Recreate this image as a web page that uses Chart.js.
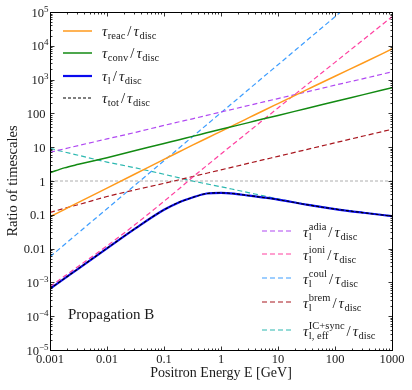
<!DOCTYPE html>
<html>
<head>
<meta charset="utf-8">
<script src="https://cdn.jsdelivr.net/npm/chart.js@4.4.1/dist/chart.umd.min.js"></script>
<style>
  html,body{margin:0;padding:0;background:#fff}
</style>
</head>
<body>
<canvas id="c" width="412" height="390"></canvas>
<script>
// energies (GeV) the curves were read at
const energy = [0.001, 0.00178, 0.00316, 0.01, 0.0316, 0.1, 0.178, 0.316, 0.562, 1, 1.78, 3.16, 5.62, 10, 31.6, 100, 316, 1000]

// timescale ratios
const reacRatio = [0.088, 0.143, 0.232, 0.617, 1.64, 4.37, 7.08, 11.5, 18.4, 29.5, 47.3, 75.9, 122, 195, 496, 1260, 3160, 8040]
const convRatio = [1.76, 2.45, 3.12, 4.90, 7.94, 12.9, 16.4, 20.9, 26.6, 33.9, 42.7, 54.3, 69.2, 87.1, 140, 224, 359, 575]
const lossRatio = [6.46e-4, 1.29e-3, 2.57e-3, 0.0102, 0.0398, 0.141, 0.229, 0.324, 0.427, 0.447, 0.417, 0.367, 0.324, 0.282, 0.200, 0.148, 0.115, 0.0912]
const totRatio  = [6.46e-4, 1.29e-3, 2.57e-3, 0.0102, 0.0398, 0.141, 0.229, 0.324, 0.427, 0.447, 0.417, 0.367, 0.324, 0.282, 0.200, 0.148, 0.115, 0.0912]
const adiaRatio = [7.08, 8.91, 11.2, 17.6, 27.5, 44.2, 55.6, 69.2, 87.1, 110, 138, 174, 219, 275, 432, 684, 1072, 1698]
const ioniRatio = [7.41e-4, 1.51e-3, 3.02e-3, 0.0120, 0.0525, 0.251, 0.562, 1.29, 2.85, 6.31, 13.8, 30.2, 66.1, 145, 684, 3240, 15300, 72400]
const coulRatio = [5.75e-3, 0.0130, 0.0295, 0.151, 0.776, 3.98, 9.02, 20.4, 46.2, 105, 237, 537, 1220, 2750, 14100, 72400, 372000, 1910000]
const bremRatio = [0.117, 0.155, 0.200, 0.347, 0.550, 0.851, 1.07, 1.35, 1.70, 2.14, 2.69, 3.39, 4.27, 5.37, 8.51, 13.5, 21.4, 33.9]
const icRatio   = [9.27, 7.24, 5.75, 3.63, 2.45, 1.58, 1.26, 1.00, 0.822, 0.676, 0.550, 0.447, 0.363, 0.295, 0.204, 0.151, 0.117, 0.0923]

// reference line at ratio = 1
const unityX = [0.001, 1000]
const unityY = [1, 1]

// ticks
const xTicks = [0.001, 0.01, 0.1, 1, 10, 100, 1000]
const xTickLabels = ['0.001', '0.01', '0.1', '1', '10', '100', '1000']
const yTicks = [1e5, 1e4, 1e3, 100, 10, 1, 0.1, 0.01, 1e-3, 1e-4, 1e-5]
const yTickLabels = ['10^5', '10^4', '10^3', '100', '10', '1', '0.1', '0.01', '10^−3', '10^−4', '10^−5']

const FONT = "'Liberation Serif', 'DejaVu Serif', serif"
const INK = '#1a1a1a'

function pts(ys, xs=energy){ return xs.map((e,i)=>({x:e, y:ys[i]})) }

function series(label, ys, color, width, dash, group, order){
  return {label, data:pts(ys), borderColor:color, backgroundColor:color, borderWidth:width,
    borderDash:dash, group, order, pointRadius:0, fill:false, cubicInterpolationMode:'monotone'}
}

const datasets = [
  series('τ_{reac}/τ_{disc}', reacRatio, '#ff9a1c', 1.5, [], 'top', 3),
  series('τ_{conv}/τ_{disc}', convRatio, '#128a12', 1.5, [], 'top', 2),
  series('τ_{l}/τ_{disc}', lossRatio, '#0a0aee', 2.2, [], 'top', 1),
  series('τ_{tot}/τ_{disc}', totRatio, '#000000', 1.1, [3,2], 'top', 0),
  series('τ_{l}^{adia}/τ_{disc}', adiaRatio, '#b048f2', 1.2, [5,3], 'bottom', 4),
  series('τ_{l}^{ioni}/τ_{disc}', ioniRatio, '#ff40a0', 1.2, [5,3], 'bottom', 5),
  series('τ_{l}^{coul}/τ_{disc}', coulRatio, '#3d9dff', 1.2, [5,3], 'bottom', 6),
  series('τ_{l}^{brem}/τ_{disc}', bremRatio, '#a8161e', 1.2, [5,3], 'bottom', 7),
  series('τ_{l, eff}^{IC+sync}/τ_{disc}', icRatio, '#2cb8b0', 1.2, [5,3], 'bottom', 8),
  {label:'unity', data:pts(unityY, unityX), borderColor:'#9a9a9a', borderWidth:0.8, borderDash:[3,2], pointRadius:0, order:9}
]

// tiny math-ish text: τ_{sub}^{sup}
function parseMath(s){
  const atoms = []
  let i = 0
  while(i < s.length){
    const c = s[i]
    if((c=='_' || c=='^') && s[i+1]=='{'){
      const j = s.indexOf('}', i)
      atoms[atoms.length-1][c=='_' ? 'sub' : 'sup'] = s.slice(i+2, j)
      i = j+1
    } else { atoms.push({t:c}); i++ }
  }
  return atoms
}

function drawMath(ctx, str, x, y, size){
  const small = size*0.7
  for(const a of parseMath(str)){
    const greek = /[α-ω]/.test(a.t)
    ctx.font = `${greek ? 'italic ' : ''}${size}px ${FONT}`
    let w = ctx.measureText(a.t).width
    if(a.t == '/'){ x += 2; ctx.fillText(a.t, x, y); w += 2 }
    else ctx.fillText(a.t, x, y)
    ctx.font = `${small}px ${FONT}`
    let extra = 0
    if(a.sub){ ctx.fillText(a.sub, x+w+0.5, y+size*0.26); extra = ctx.measureText(a.sub).width+0.5 }
    if(a.sup){ ctx.fillText(a.sup, x+w+0.5, y-size*0.42); extra = Math.max(extra, ctx.measureText(a.sup).width+0.5) }
    x += w + extra
  }
}

const decor = {
  id:'decor',
  afterDatasetsDraw(chart){
    const {ctx, chartArea:a, scales:{x, y}} = chart
    ctx.save()
    ctx.strokeStyle = '#000'
    ctx.fillStyle = INK
    ctx.lineWidth = 1
    ctx.setLineDash([])
    const L = a.left+0.5, R = a.right+0.5, T = a.top+0.5, B = a.bottom+0.5
    ctx.strokeRect(L, T, R-L, B-T)

    // inward ticks on all sides
    ctx.lineWidth = 0.8
    ctx.beginPath()
    for(let d=-3; d<=3; d++){
      for(let k=1; k<=9; k++){
        const v = k*Math.pow(10, d)
        if(v > 1000.01) break
        const px = Math.round(x.getPixelForValue(v))+0.5
        const len = k==1 ? 4 : 2
        ctx.moveTo(px, B); ctx.lineTo(px, B-len)
        ctx.moveTo(px, T); ctx.lineTo(px, T+len)
      }
    }
    for(let d=-5; d<=5; d++){
      for(let k=1; k<=9; k++){
        const v = k*Math.pow(10, d)
        if(v > 1.0001e5) break
        const py = Math.round(y.getPixelForValue(v))+0.5
        const len = k==1 ? 4 : 2
        ctx.moveTo(L, py); ctx.lineTo(L+len, py)
        ctx.moveTo(R, py); ctx.lineTo(R-len, py)
      }
    }
    ctx.stroke()

    // tick labels
    ctx.textBaseline = 'alphabetic'
    ctx.font = `12.5px ${FONT}`
    ctx.textAlign = 'center'
    xTicks.forEach((v,i)=>{
      ctx.fillText(xTickLabels[i], x.getPixelForValue(v), a.bottom+13)
    })
    yTicks.forEach((v,i)=>{
      const py = y.getPixelForValue(v)
      const lab = yTickLabels[i]
      if(lab.includes('^')){
        const [base, ex] = lab.split('^')
        ctx.font = `9px ${FONT}`
        const we = ctx.measureText(ex).width
        ctx.textAlign = 'left'
        ctx.fillText(ex, a.left-1.5-we, py-0.5)
        ctx.font = `12.5px ${FONT}`
        ctx.textAlign = 'right'
        ctx.fillText(base, a.left-1.5-we, py+4.5)
      } else {
        ctx.font = `12.5px ${FONT}`
        ctx.textAlign = 'right'
        ctx.fillText(lab, a.left-4.5, py+4.5)
      }
    })

    // legends
    ctx.textAlign = 'left'
    const boxes = {top:{x0:63, x1:92, tx:102, rows:[31, 53, 76, 98], n:0},
                   bottom:{x0:262, x1:291, tx:303, rows:[231, 254, 278, 302, 330], n:0}}
    chart.data.datasets.forEach(ds=>{
      const b = boxes[ds.group]
      if(!b) return
      const ry = b.rows[b.n++]
      ctx.strokeStyle = ds.borderColor
      ctx.lineWidth = ds.borderWidth
      ctx.setLineDash(ds.borderDash)
      ctx.beginPath(); ctx.moveTo(b.x0, ry); ctx.lineTo(b.x1, ry); ctx.stroke()
      ctx.setLineDash([])
      ctx.fillStyle = INK
      drawMath(ctx, ds.label, b.tx, ry + (ds.label.includes('^') ? 5.5 : 4.5), 15)
    })

    ctx.font = `15px ${FONT}`
    ctx.fillStyle = INK
    ctx.fillText('Propagation B', 68, 319)
    ctx.restore()
  }
}

new Chart(document.getElementById('c'), {
  type:'line',
  data:{datasets},
  options:{
    responsive:false,
    animation:false,
    layout:{padding:{top:12, right:20, left:0, bottom:0}},
    plugins:{legend:{display:false}, tooltip:{enabled:false}},
    scales:{
      x:{type:'logarithmic', min:0.001, max:1000,
        ticks:{display:false}, grid:{display:false}, border:{display:false},
        title:{display:true, text:'Positron Energy E [GeV]', color:INK, font:{family:FONT, size:14}, padding:{top:4, bottom:8.5}},
        afterFit(s){ s.height = 40 }},
      y:{type:'logarithmic', min:1e-5, max:1e5,
        ticks:{display:false}, grid:{display:false}, border:{display:false},
        title:{display:true, text:'Ratio of timescales', color:INK, font:{family:FONT, size:14.5}, padding:{top:4, bottom:4}},
        afterFit(s){ s.width = 50 }}
    }
  },
  plugins:[decor]
})
</script>
</body>
</html>
